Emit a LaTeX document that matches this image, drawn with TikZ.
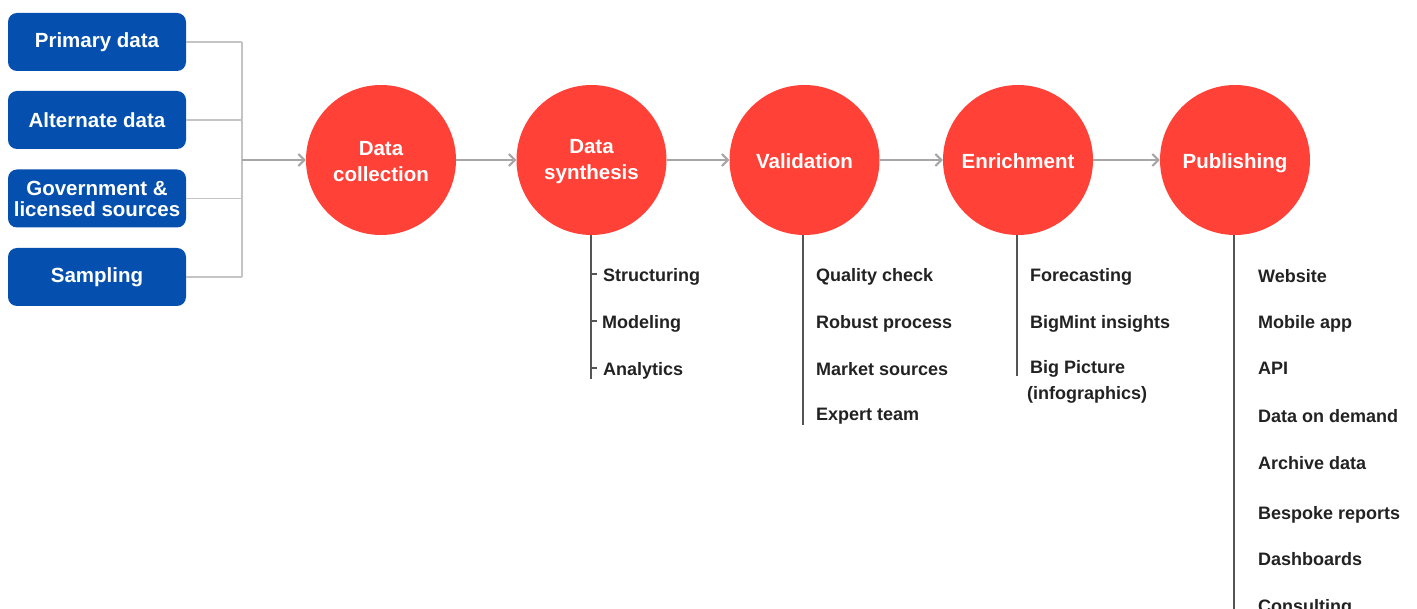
\documentclass[tikz,border=0pt]{standalone}
\usepackage{fontspec}
\setmainfont{Liberation Sans}
\usetikzlibrary{arrows.meta}
\definecolor{boxblue}{HTML}{0550AE}
\definecolor{cred}{HTML}{FF4138}
\definecolor{lgray}{HTML}{C4C4C4}
\definecolor{agray}{HTML}{A6A6A6}
\definecolor{dgray}{HTML}{555555}
\definecolor{txt}{HTML}{222222}
\begin{document}
\begin{tikzpicture}[x=1pt,y=-1pt,
  srcbox/.style={draw=none,fill=boxblue,rounded corners=9pt,minimum width=178pt,minimum height=58pt,
    text=white,align=center,inner sep=0pt,font=\bfseries\fontsize{20.5}{21}\selectfont},
  stage/.style={circle,fill=cred,minimum size=150pt,inner sep=0pt},
  stagetxt/.style={text=white,align=center,inner sep=0pt,font=\bfseries\fontsize{20.5}{26}\selectfont},
  feed/.style={draw=lgray,line width=1.6pt},
  flow/.style={draw=agray,line width=2pt,-{Straight Barb[length=6pt,width=12pt]}},
  stem/.style={draw=dgray,line width=1.5pt},
  item/.style={anchor=base west,inner sep=0pt,text=txt,font=\bfseries\fontsize{18}{22}\selectfont}
]
\useasboundingbox (0,0) rectangle (1417,609);
\clip (0,0) rectangle (1417,609);
% source boxes
\node[srcbox] (b1) at (97,42) {Primary data};
\node[srcbox] (b2) at (97,120) {Alternate data};
\node[srcbox] (b3) at (97,198.5) {Government \&\\licensed sources};
\node[srcbox] (b4) at (97,277) {Sampling};
\coordinate (j1) at (242,42);
\coordinate (j4) at (242,277);
\coordinate (jm) at (242,160);
% stages
\node[stage,label={[stagetxt,yshift=-2pt]center:Data\\collection}] (s1) at (381,160) {};
\node[stage,label={[stagetxt,yshift=-2pt]center:Data\\synthesis}] (s2) at (591.5,160) {};
\node[stage,label={[stagetxt,yshift=-1pt]center:Validation}] (s3) at (804.5,160) {};
\node[stage,label={[stagetxt,yshift=-1pt]center:Enrichment}] (s4) at (1018,160) {};
\node[stage,label={[stagetxt,yshift=-3pt]center:Publishing}] (s5) at (1235,160) {};
% feed lines
\draw[feed] (b1.east) -- (j1);
\draw[feed] (b2.east) -- (b2.east -| j1);
\draw[feed] (b3.east) -- (b3.east -| j1);
\draw[feed] (b4.east) -- (j4);
\draw[feed] (j1) -- (j4);
\draw[flow] (jm) -- (s1.west);
\draw[flow] (s1.east) -- (s2.west);
\draw[flow] (s2.east) -- (s3.west);
\draw[flow] (s3.east) -- (s4.west);
\draw[flow] (s4.east) -- (s5.west);
% stems
\coordinate (e2) at (591,379);
\coordinate (e3) at (803,425);
\coordinate (e4) at (1017,376);
\coordinate (e5) at (1234,620);
\draw[stem] (s2.south -| e2) -- (e2);
\draw[stem] (s3.south -| e3) -- (e3);
\draw[stem] (s4.south -| e4) -- (e4);
\draw[stem] (s5.south -| e5) -- (e5);
% synthesis items
\node[item] (a1) at (603,282) {Structuring};
\node[item] (a2) at (602,329) {Modeling};
\node[item] (a3) at (603,376) {Analytics};
\foreach \y in {274,321,368}{\draw[stem] (e2 |- 0,\y) -- ++(6,0);}
% validation items
\node[item] (v1) at (816,282) {Quality check};
\node[item] (v2) at (816,329) {Robust process};
\node[item] (v3) at (816,376) {Market sources};
\node[item] (v4) at (816,421) {Expert team};
% enrichment items
\node[item] (n1) at (1030,282) {Forecasting};
\node[item] (n2) at (1030,329) {BigMint insights};
\node[item] (n3) at (1030,374) {Big Picture};
\node[item] (n4) at (1027,400) {(infographics)};
% publishing items
\node[item] (p1) at (1258,283) {Website};
\node[item] (p2) at (1258,329) {Mobile app};
\node[item] (p3) at (1258,375) {API};
\node[item] (p4) at (1258,423) {Data on demand};
\node[item] (p5) at (1258,470) {Archive data};
\node[item] (p6) at (1258,519) {Bespoke reports};
\node[item] (p7) at (1258,565) {Dashboards};
\node[item] (p8) at (1258,612) {Consulting};
\end{tikzpicture}
\end{document}
